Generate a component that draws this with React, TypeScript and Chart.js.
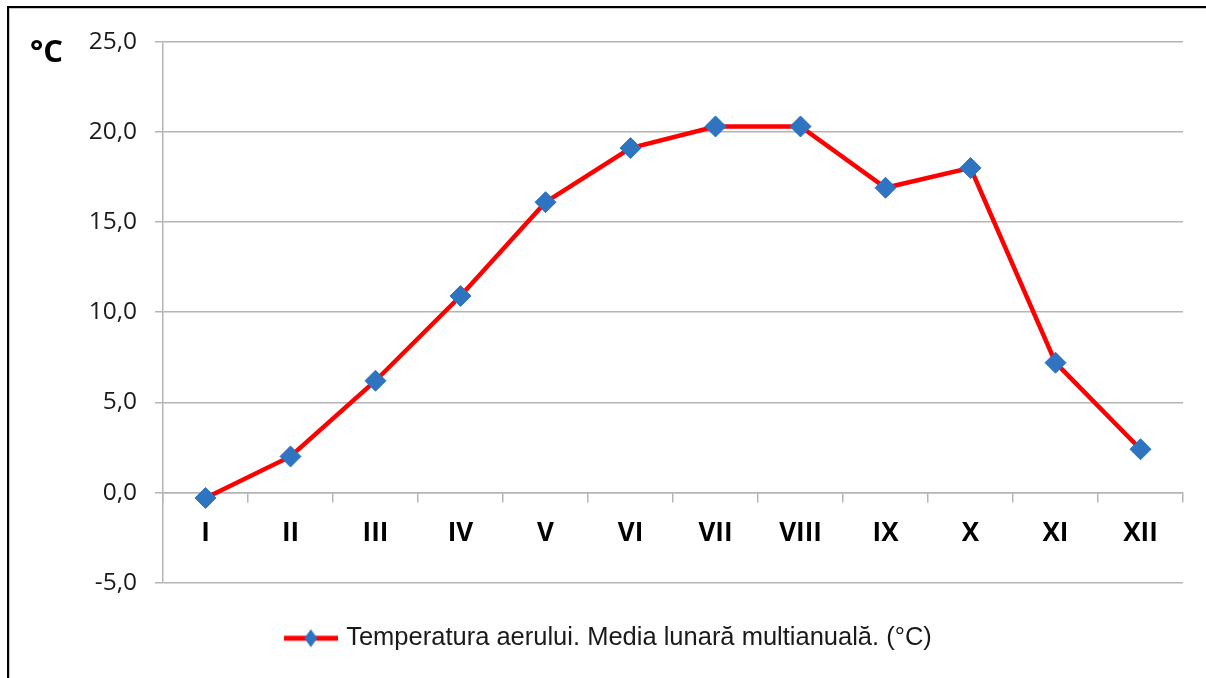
import React, { useEffect, useRef } from 'react';
import { Chart, registerables } from 'chart.js';

Chart.register(...registerables);

const months = ['I', 'II', 'III', 'IV', 'V', 'VI', 'VII', 'VIII', 'IX', 'X', 'XI', 'XII'];
const temperatures = [-0.3, 2.0, 6.2, 10.9, 16.1, 19.1, 20.3, 20.3, 16.9, 18.0, 7.2, 2.4];
const seriesLabel = 'Temperatura aerului. Media lunară multianuală. (°C)';
const unitLabel = '°C';
const yMin = -5;
const yMax = 25;
const yStep = 5;

const LINE_COLOR = '#ff0000';
const MARKER_COLOR = '#2f74c0';
const GRID_COLOR = '#b4b4b4';

function makeLegendIcon(): HTMLCanvasElement {
  const c = document.createElement('canvas');
  c.width = 54;
  c.height = 20;
  const ctx = c.getContext('2d')!;
  ctx.strokeStyle = LINE_COLOR;
  ctx.lineWidth = 5;
  ctx.beginPath();
  ctx.moveTo(0, 10);
  ctx.lineTo(54, 10);
  ctx.stroke();
  ctx.fillStyle = MARKER_COLOR;
  ctx.beginPath();
  ctx.moveTo(27, 1);
  ctx.lineTo(33.5, 10);
  ctx.lineTo(27, 19);
  ctx.lineTo(20.5, 10);
  ctx.closePath();
  ctx.fill();
  return c;
}

const unitPlugin = {
  id: 'unitLabel',
  afterDraw(chart: any) {
    const ctx = chart.ctx;
    ctx.save();
    ctx.font = 'bold 31px "Open Sans"';
    ctx.fillStyle = '#000';
    ctx.textBaseline = 'middle';
    ctx.textAlign = 'left';
    ctx.fillText(unitLabel, 20, chart.chartArea.top + 11);
    ctx.restore();
  },
};

export default function App() {
  const canvasRef = useRef<HTMLCanvasElement | null>(null);

  useEffect(() => {
    document.body.style.margin = '0';
    document.body.style.overflow = 'hidden';
    const canvas = canvasRef.current;
    if (!canvas) return;
    const icon = makeLegendIcon();
    const chart = new Chart(canvas, {
      type: 'line',
      data: {
        labels: months,
        datasets: [
          {
            label: seriesLabel,
            data: temperatures,
            borderColor: LINE_COLOR,
            backgroundColor: MARKER_COLOR,
            borderWidth: 4.5,
            tension: 0,
            fill: false,
            pointStyle: 'rectRot',
            pointRadius: 10.5,
            pointBackgroundColor: MARKER_COLOR,
            pointBorderColor: MARKER_COLOR,
            pointBorderWidth: 1,
            clip: false as any,
          },
        ],
      },
      options: {
        animation: false,
        responsive: true,
        maintainAspectRatio: false,
        layout: { padding: { left: 27, right: 23, top: 31.7, bottom: 17 } },
        plugins: {
          tooltip: { enabled: false },
          legend: {
            position: 'bottom',
            labels: {
              padding: 42.8,
              color: '#1a1a1a',
              font: { family: '"Liberation Sans", Arial, sans-serif', size: 25.5 },
              usePointStyle: true,
              pointStyle: icon as any,
              pointStyleWidth: 45.25,
            },
          },
        },
        scales: {
          x: {
            position: { y: 0 } as any,
            offset: true,
            grid: {
              offset: true,
              drawOnChartArea: false,
              drawTicks: true,
              tickLength: 9,
              color: GRID_COLOR,
              lineWidth: 1.5,
            },
            border: { display: true, color: GRID_COLOR, width: 1.5 },
            ticks: {
              padding: 16,
              color: '#000',
              maxRotation: 0,
              autoSkip: false,
              font: { family: '"Open Sans", sans-serif', size: 26, weight: 'bold' },
            },
          },
          y: {
            min: yMin,
            max: yMax,
            afterFit: (scale: any) => {
              scale.width = 126;
            },
            ticks: {
              stepSize: yStep,
              padding: 18,
              color: '#1a1a1a',
              font: { family: '"Open Sans", sans-serif', size: 24.5 },
              callback: (v: any) => Number(v).toFixed(1).replace('.', ','),
            },
            grid: { color: GRID_COLOR, lineWidth: 1.5, tickLength: 8, drawTicks: true },
            border: { display: true, color: GRID_COLOR, width: 1.5 },
          },
        },
      },
      plugins: [unitPlugin],
    });
    return () => chart.destroy();
  }, []);

  return (
    <div>
      <div
        style={{
          position: 'fixed',
          left: 7,
          top: 6,
          width: 1260,
          height: 720,
          boxSizing: 'border-box',
          borderTop: '2px solid #000',
          borderLeft: '2px solid #000',
        }}
      >
        <div
          style={{
            position: 'absolute',
            left: 0,
            top: 0,
            right: 0,
            bottom: 0,
            borderTop: '1px solid #c8c8c8',
            borderLeft: '1px solid #c8c8c8',
          }}
        />
      </div>
      <div style={{ position: 'fixed', left: 10, top: 9, width: 1196, height: 669, background: '#fff' }}>
        <canvas ref={canvasRef} />
      </div>
    </div>
  );
}
